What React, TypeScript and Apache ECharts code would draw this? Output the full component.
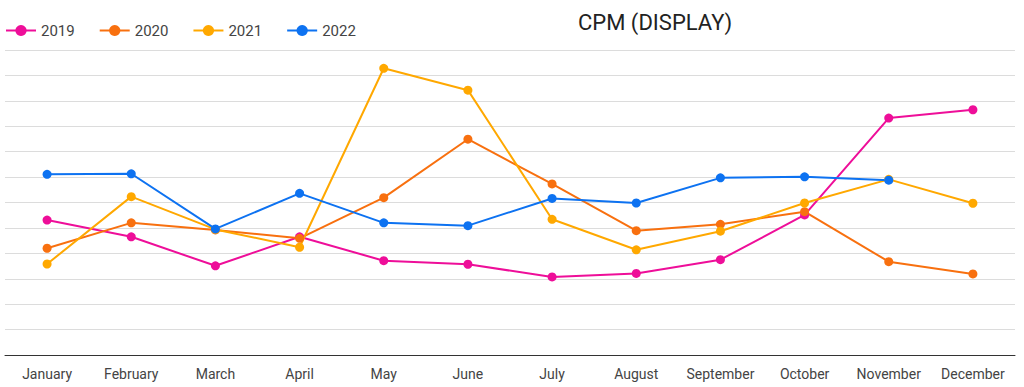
import React, { useEffect, useRef } from "react";
import * as echarts from "echarts";

const months = ["January", "February", "March", "April", "May", "June", "July", "August", "September", "October", "November", "December"];
const s2019 = [5.31, 4.65, 3.51, 4.65, 3.71, 3.57, 3.07, 3.21, 3.75, 5.51, 9.32, 9.65];
const s2020 = [4.2, 5.2, 4.92, 4.59, 6.19, 8.49, 6.73, 4.89, 5.14, 5.64, 3.67, 3.19];
const s2021 = [3.58, 6.23, 4.94, 4.24, 11.28, 10.42, 5.34, 4.14, 4.87, 5.98, 6.91, 5.97];
const s2022 = [7.11, 7.13, 4.96, 6.36, 5.2, 5.09, 6.16, 5.98, 6.97, 7.01, 6.88, null];
const seriesNames = ["2019", "2020", "2021", "2022"];
const colors = ["#ee0e99", "#f8700f", "#ffa800", "#0d72f1"];

export default function App() {
  const ref = useRef<HTMLDivElement>(null);
  useEffect(() => {
    document.body.style.margin = "0";
    const chart = echarts.init(ref.current!, null, { renderer: "svg" });
    const data = [s2019, s2020, s2021, s2022];
    chart.setOption({
      animation: false,
      textStyle: { fontFamily: "Roboto" },
      title: {
        text: "CPM (DISPLAY)",
        left: 573,
        top: 6,
        textStyle: { fontSize: 22, fontWeight: "normal", color: "#222", fontFamily: "Roboto" },
      },
      legend: {
        left: 0,
        top: 18,
        itemWidth: 30,
        itemHeight: 14,
        itemGap: 24,
        textStyle: { fontSize: 15, color: "#444", fontFamily: "Roboto" },
        data: seriesNames,
      },
      grid: { left: 5, right: 9, top: 50, bottom: 32, containLabel: false },
      xAxis: {
        type: "category",
        data: months,
        boundaryGap: true,
        axisLine: { lineStyle: { color: "#333", width: 1 } },
        axisTick: { show: false },
        axisLabel: { color: "#444", fontSize: 14, margin: 12, interval: 0, fontFamily: "Roboto" },
      },
      yAxis: {
        type: "value",
        min: 0,
        max: 12,
        interval: 1,
        axisLabel: { show: false },
        axisLine: { show: false },
        axisTick: { show: false },
        splitLine: { lineStyle: { color: "#dcdcdc", width: 1 } },
      },
      series: seriesNames.map((name, i) => ({
        name,
        type: "line",
        data: data[i],
        color: colors[i],
        symbol: "circle",
        symbolSize: 9,
        showSymbol: true,
        lineStyle: { width: 2, color: colors[i] },
        itemStyle: { color: colors[i] },
        connectNulls: false,
      })),
    });
    return () => chart.dispose();
  }, []);
  return <div ref={ref} style={{ width: 1024, height: 387 }} />;
}
